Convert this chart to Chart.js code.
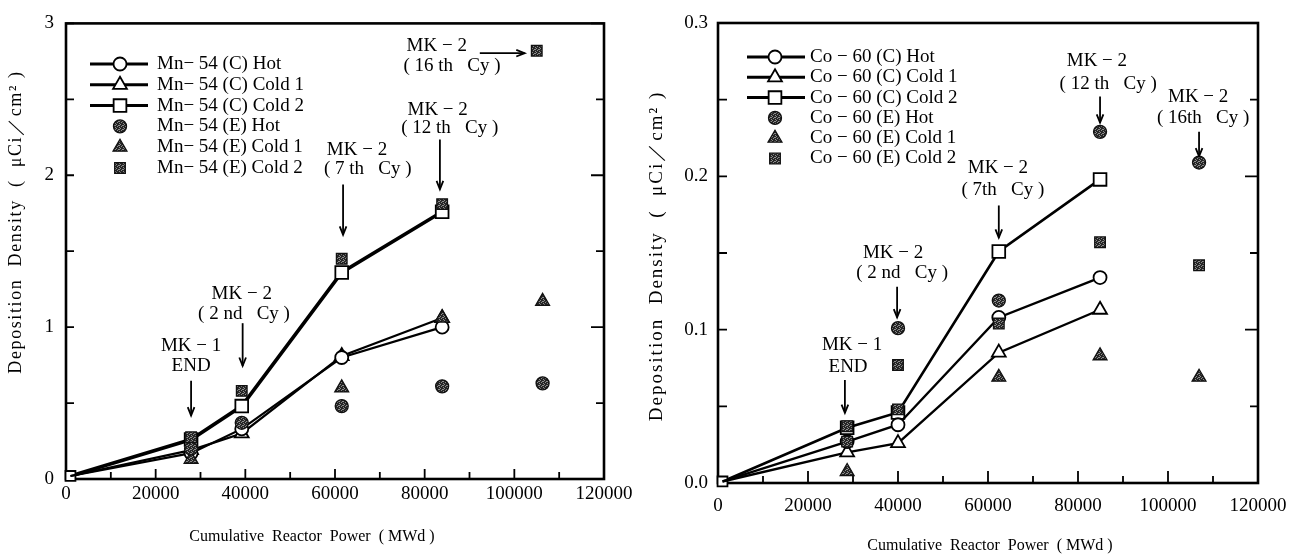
<!DOCTYPE html>
<html>
<head>
<meta charset="utf-8">
<script src="https://cdn.jsdelivr.net/npm/chart.js@4.4.1/dist/chart.umd.min.js"></script>
<style>
  html, body { margin: 0; padding: 0; background: #fff; width: 1304px; height: 558px; overflow: hidden; }
  .panel { position: absolute; top: 0; height: 558px; }
  #mnBox { left: 0; width: 640px; }
  #coBox { left: 640px; width: 664px; }
</style>
</head>
<body>
<div class="panel" id="mnBox"><canvas id="mnChart" width="640" height="558"></canvas></div>
<div class="panel" id="coBox"><canvas id="coChart" width="664" height="558"></canvas></div>
<script>
// ---------- Mn-54 deposition (left panel) ----------
const mnPowerC   = [1000, 27900, 39200, 61500, 83900];
const mnHotC     = [0.02, 0.17, 0.33, 0.80, 1.00];
const mnCold1C   = [0.02, 0.19, 0.30, 0.81, 1.06];
const mnCold2C   = [0.02, 0.26, 0.48, 1.36, 1.76];
const mnPowerHotE   = [27900, 39200, 61500, 83900, 106300];
const mnHotE        = [0.20, 0.37, 0.48, 0.61, 0.63];
const mnPowerCold1E = [27900, 61500, 83900, 106300];
const mnCold1E      = [0.13, 0.60, 1.06, 1.17];
const mnPowerCold2E = [27900, 39200, 61500, 83900, 105000];
const mnCold2E      = [0.275, 0.58, 1.45, 1.81, 2.82];
const mnXTicks = [0, 20000, 40000, 60000, 80000, 100000, 120000];
const mnYTicks = [0, 1, 2, 3];
const mnLabels = ['Mn− 54 (C) Hot', 'Mn− 54 (C) Cold 1', 'Mn− 54 (C) Cold 2',
                  'Mn− 54 (E) Hot', 'Mn− 54 (E) Cold 1', 'Mn− 54 (E) Cold 2'];

// ---------- Co-60 deposition (right panel) ----------
const coPowerC   = [1000, 28700, 40000, 62400, 84900];
const coHotC     = [0.001, 0.027, 0.038, 0.108, 0.134];
const coCold1C   = [0.001, 0.020, 0.026, 0.085, 0.113];
const coCold2C   = [0.001, 0.036, 0.046, 0.151, 0.198];
const coPowerHotE   = [40000, 62400, 84900, 106900];
const coHotE        = [0.101, 0.119, 0.229, 0.209];
const coPowerCold1E = [28700, 62400, 84900, 106900];
const coCold1E      = [0.0075, 0.069, 0.083, 0.069];
const coPowerCold2E = [28700, 28700, 40000, 40000, 62400, 84900, 106900];
const coCold2E      = [0.037, 0.027, 0.077, 0.048, 0.104, 0.157, 0.142];
const coXTicks = [0, 20000, 40000, 60000, 80000, 100000, 120000];
const coYTicks = [0, 0.1, 0.2, 0.3];
const coLabels = ['Co − 60 (C) Hot', 'Co − 60 (C) Cold 1', 'Co − 60 (C) Cold 2',
                  'Co − 60 (E) Hot', 'Co − 60 (E) Cold 1', 'Co − 60 (E) Cold 2'];

const SERIF = "'Liberation Serif', 'DejaVu Serif', serif";

// stippled fill used for the (E) markers
function makeShade() {
  const c = document.createElement('canvas');
  c.width = 4; c.height = 4;
  const g = c.getContext('2d');
  g.fillStyle = '#262626'; g.fillRect(0, 0, 4, 4);
  g.fillStyle = '#8c8c8c';
  [[0, 0], [2, 1], [1, 2], [3, 3], [3, 1]].forEach(([x, y]) => g.fillRect(x, y, 1, 1));
  return g.createPattern(c, 'repeat');
}
const SHADE = makeShade();

function pts(xs, ys) { return xs.map((x, i) => ({ x, y: ys[i] })); }

function openSeries(label, xs, ys, style, radius, width, firstRadius) {
  return {
    label, data: pts(xs, ys), showLine: true, tension: 0, clip: false,
    borderColor: '#000', borderWidth: width,
    pointStyle: style, pointRadius: ys.map((_, i) => (i === 0 ? firstRadius : radius)),
    pointBackgroundColor: '#fff', pointBorderColor: '#000', pointBorderWidth: 1.8,
    pointHoverRadius: 0, order: 2
  };
}
function shadedSeries(label, xs, ys, style, radius) {
  return {
    label, data: pts(xs, ys), showLine: false, clip: false,
    pointStyle: style, pointRadius: radius,
    pointBackgroundColor: SHADE, pointBorderColor: '#111', pointBorderWidth: 1.3,
    pointHoverRadius: 0, order: 1
  };
}

// inward tick marks and the closed frame around the plot area
const frameTicks = {
  id: 'frameTicks',
  beforeDatasetsDraw(chart, args, o) {
    const { ctx, chartArea: a, scales: { x, y } } = chart;
    ctx.save();
    ctx.strokeStyle = '#000';
    ctx.lineWidth = 1.8;
    ctx.beginPath();
    for (let k = 0; x.min + k * o.xStep <= x.max + 1e-6; k++) {
      const px = x.getPixelForValue(x.min + k * o.xStep);
      const len = k % 2 === 0 ? o.xMajor : o.xMinor;
      ctx.moveTo(px, a.bottom); ctx.lineTo(px, a.bottom - len);
    }
    for (let k = 0; y.min + k * o.yStep <= y.max + 1e-9; k++) {
      const py = y.getPixelForValue(y.min + k * o.yStep);
      const len = k % 2 === 0 ? o.yMajor : o.yMinor;
      ctx.moveTo(a.left, py); ctx.lineTo(a.left + o.yLeft, py);
      ctx.moveTo(a.right, py); ctx.lineTo(a.right - len, py);
    }
    ctx.stroke();
    ctx.lineWidth = 2.6;
    ctx.strokeRect(a.left, a.top, a.width, a.height);
    ctx.restore();
  }
};

// legend block: line + marker sample followed by the series name
const panelLegend = {
  id: 'panelLegend',
  afterDraw(chart, args, o) {
    const ctx = chart.ctx;
    ctx.save();
    ctx.font = o.font;
    ctx.fillStyle = '#000';
    ctx.textBaseline = 'middle';
    ctx.textAlign = 'left';
    chart.data.datasets.forEach((ds, i) => {
      const yy = o.y0 + i * o.dy;
      if (ds.showLine) {
        ctx.strokeStyle = '#000';
        ctx.lineWidth = o.lineWidth;
        ctx.beginPath(); ctx.moveTo(o.x0, yy); ctx.lineTo(o.x1, yy); ctx.stroke();
      }
      const r = Array.isArray(ds.pointRadius) ? ds.pointRadius[ds.pointRadius.length - 1] : ds.pointRadius;
      ctx.fillStyle = ds.pointBackgroundColor;
      ctx.strokeStyle = ds.pointBorderColor;
      ctx.lineWidth = ds.pointBorderWidth;
      Chart.helpers.drawPoint(ctx, { pointStyle: ds.pointStyle, rotation: 0, radius: r, borderWidth: ds.pointBorderWidth }, o.xm, yy);
      ctx.fillStyle = '#000';
      ctx.fillText(ds.label, o.xt, yy);
    });
    ctx.restore();
  }
};

// cycle notes with arrows, positioned in data units
const cycleNotes = {
  id: 'cycleNotes',
  afterDatasetsDraw(chart, args, o) {
    const { ctx, scales: { x, y } } = chart;
    ctx.save();
    ctx.font = o.font;
    ctx.fillStyle = '#000';
    ctx.strokeStyle = '#000';
    ctx.textAlign = 'center';
    ctx.textBaseline = 'middle';
    o.items.forEach(n => {
      n.text.forEach(([t, vx, vy]) => ctx.fillText(t, x.getPixelForValue(vx), y.getPixelForValue(vy)));
      const [ax1, ay1, ax2, ay2] = n.arrow;
      const x1 = x.getPixelForValue(ax1), y1 = y.getPixelForValue(ay1);
      const x2 = x.getPixelForValue(ax2), y2 = y.getPixelForValue(ay2);
      ctx.lineWidth = 1.8;
      ctx.beginPath(); ctx.moveTo(x1, y1); ctx.lineTo(x2, y2); ctx.stroke();
      const ang = Math.atan2(y2 - y1, x2 - x1), h = 9, w = 0.38;
      ctx.beginPath();
      ctx.moveTo(x2 - h * Math.cos(ang - w), y2 - h * Math.sin(ang - w));
      ctx.lineTo(x2, y2);
      ctx.lineTo(x2 - h * Math.cos(ang + w), y2 - h * Math.sin(ang + w));
      ctx.stroke();
    });
    ctx.restore();
  }
};

// axis titles (y title rotated)
const axisTitles = {
  id: 'axisTitles',
  afterDraw(chart, args, o) {
    const ctx = chart.ctx;
    ctx.save();
    ctx.fillStyle = '#000';
    ctx.textAlign = 'center';
    ctx.textBaseline = 'middle';
    ctx.font = o.xFont;
    ctx.letterSpacing = o.xSpacing;
    ctx.fillText(o.xText, o.xPos[0], o.xPos[1]);
    ctx.font = o.yFont;
    ctx.letterSpacing = o.ySpacing;
    ctx.translate(o.yPos[0], o.yPos[1]);
    ctx.rotate(-Math.PI / 2);
    ctx.fillText(o.yText, 0, 0);
    ctx.restore();
  }
};

function buildPanel(canvasId, p) {
  return new Chart(document.getElementById(canvasId), {
    type: 'scatter',
    data: { datasets: p.datasets },
    plugins: [frameTicks, cycleNotes, panelLegend, axisTitles],
    options: {
      responsive: false, animation: false, devicePixelRatio: 1,
      layout: { padding: { left: 0, top: p.area.top, right: p.area.right, bottom: 0 } },
      events: [],
      scales: {
        x: {
          type: 'linear', min: p.xTicks[0], max: p.xTicks[p.xTicks.length - 1],
          afterBuildTicks: s => { s.ticks = p.xTicks.map(v => ({ value: v })); },
          afterFit: s => { s.height = p.area.xHeight; },
          grid: { display: false, drawTicks: false }, border: { display: false },
          ticks: { color: '#000', padding: p.area.xPad, maxRotation: 0, autoSkip: false,
                   font: { family: SERIF, size: 19 }, callback: v => String(v) }
        },
        y: {
          type: 'linear', min: p.yTicks[0], max: p.yTicks[p.yTicks.length - 1],
          afterBuildTicks: s => { s.ticks = p.yTicks.map(v => ({ value: v })); },
          afterFit: s => { s.width = p.area.yWidth; },
          grid: { display: false, drawTicks: false }, border: { display: false },
          ticks: { color: '#000', padding: p.area.yPad, autoSkip: false,
                   font: { family: SERIF, size: 19 }, callback: p.yFormat }
        }
      },
      plugins: {
        legend: { display: false }, tooltip: { enabled: false },
        frameTicks: p.ticks,
        panelLegend: p.legend,
        cycleNotes: { font: '19px ' + SERIF, items: p.notes },
        axisTitles: p.titles
      }
    }
  });
}

buildPanel('mnChart', {
  xTicks: mnXTicks, yTicks: mnYTicks, yFormat: v => String(v),
  area: { top: 20, right: 36, xHeight: 79, yWidth: 66, xPad: 4, yPad: 12 },
  ticks: { xStep: 10000, xMajor: 10, xMinor: 7, yStep: 0.5, yLeft: 8, yMajor: 13, yMinor: 8 },
  datasets: [
    openSeries(mnLabels[0], mnPowerC, mnHotC, 'circle', 6.5, 2.2, 0),
    openSeries(mnLabels[1], mnPowerC, mnCold1C, 'triangle', 8, 2.2, 0),
    openSeries(mnLabels[2], mnPowerC, mnCold2C, 'rect', 9, 3.6, 7),
    shadedSeries(mnLabels[3], mnPowerHotE, mnHotE, 'circle', 6.5),
    shadedSeries(mnLabels[4], mnPowerCold1E, mnCold1E, 'triangle', 8),
    shadedSeries(mnLabels[5], mnPowerCold2E, mnCold2E, 'rect', 7.5)
  ],
  legend: { font: '19px ' + SERIF, x0: 90, x1: 148, xm: 120, xt: 157, y0: 64, dy: 20.8, lineWidth: 3 },
  notes: [
    { text: [['MK − 1', 27900, 0.876], ['END', 27900, 0.745]], arrow: [27900, 0.647, 27900, 0.418] },
    { text: [['MK − 2', 39200, 1.216], ['( 2 nd   Cy )', 39700, 1.085]], arrow: [39400, 1.026, 39400, 0.745] },
    { text: [['MK − 2', 64900, 2.163], ['( 7 th   Cy )', 67300, 2.039]], arrow: [61800, 1.94, 61800, 1.608] },
    { text: [['MK − 2', 82900, 2.431], ['( 12 th   Cy )', 85600, 2.314]], arrow: [83400, 2.235, 83400, 1.908] },
    { text: [['MK − 2', 82700, 2.85], ['( 16 th   Cy )', 86100, 2.72]], arrow: [92300, 2.804, 102300, 2.804] }
  ],
  titles: {
    xText: 'Cumulative  Reactor  Power  ( MWd )', xFont: '16px ' + SERIF, xSpacing: '0px', xPos: [312, 537],
    yText: 'Deposition  Density  (  μCi／cm² )', yFont: '18px ' + SERIF, ySpacing: '1.6px', yPos: [16, 222]
  }
});

buildPanel('coChart', {
  xTicks: coXTicks, yTicks: coYTicks, yFormat: v => v.toFixed(1),
  area: { top: 23, right: 46, xHeight: 75, yWidth: 78, xPad: 12, yPad: 10 },
  ticks: { xStep: 10000, xMajor: 12, xMinor: 7, yStep: 0.05, yLeft: 9, yMajor: 13, yMinor: 8 },
  datasets: [
    openSeries(coLabels[0], coPowerC, coHotC, 'circle', 6.5, 2.4, 0),
    openSeries(coLabels[1], coPowerC, coCold1C, 'triangle', 8, 2.4, 0),
    openSeries(coLabels[2], coPowerC, coCold2C, 'rect', 9, 2.6, 7),
    shadedSeries(coLabels[3], coPowerHotE, coHotE, 'circle', 6.5),
    shadedSeries(coLabels[4], coPowerCold1E, coCold1E, 'triangle', 8),
    shadedSeries(coLabels[5], coPowerCold2E, coCold2E, 'rect', 7.5)
  ],
  legend: { font: '19px ' + SERIF, x0: 107, x1: 165, xm: 135, xt: 170, y0: 57, dy: 20.3, lineWidth: 3 },
  notes: [
    { text: [['MK − 1', 29800, 0.090], ['END', 28900, 0.0757]], arrow: [28200, 0.0672, 28200, 0.0457] },
    { text: [['MK − 2', 38900, 0.150], ['( 2 nd   Cy )', 40900, 0.137]], arrow: [39800, 0.128, 39800, 0.108] },
    { text: [['MK − 2', 62200, 0.2055], ['( 7th   Cy )', 63300, 0.191]], arrow: [62400, 0.181, 62400, 0.160] },
    { text: [['MK − 2', 84200, 0.275], ['( 12 th   Cy )', 86700, 0.260]], arrow: [84900, 0.252, 84900, 0.235] },
    { text: [['MK − 2', 106700, 0.252], ['( 16th   Cy )', 107800, 0.238]], arrow: [106900, 0.229, 106900, 0.213] }
  ],
  titles: {
    xText: 'Cumulative  Reactor  Power  ( MWd )', xFont: '16px ' + SERIF, xSpacing: '0px', xPos: [350, 546],
    yText: 'Deposition  Density  (  μCi／cm² )', yFont: '19px ' + SERIF, ySpacing: '2px', yPos: [17, 256]
  }
});
</script>
</body>
</html>
